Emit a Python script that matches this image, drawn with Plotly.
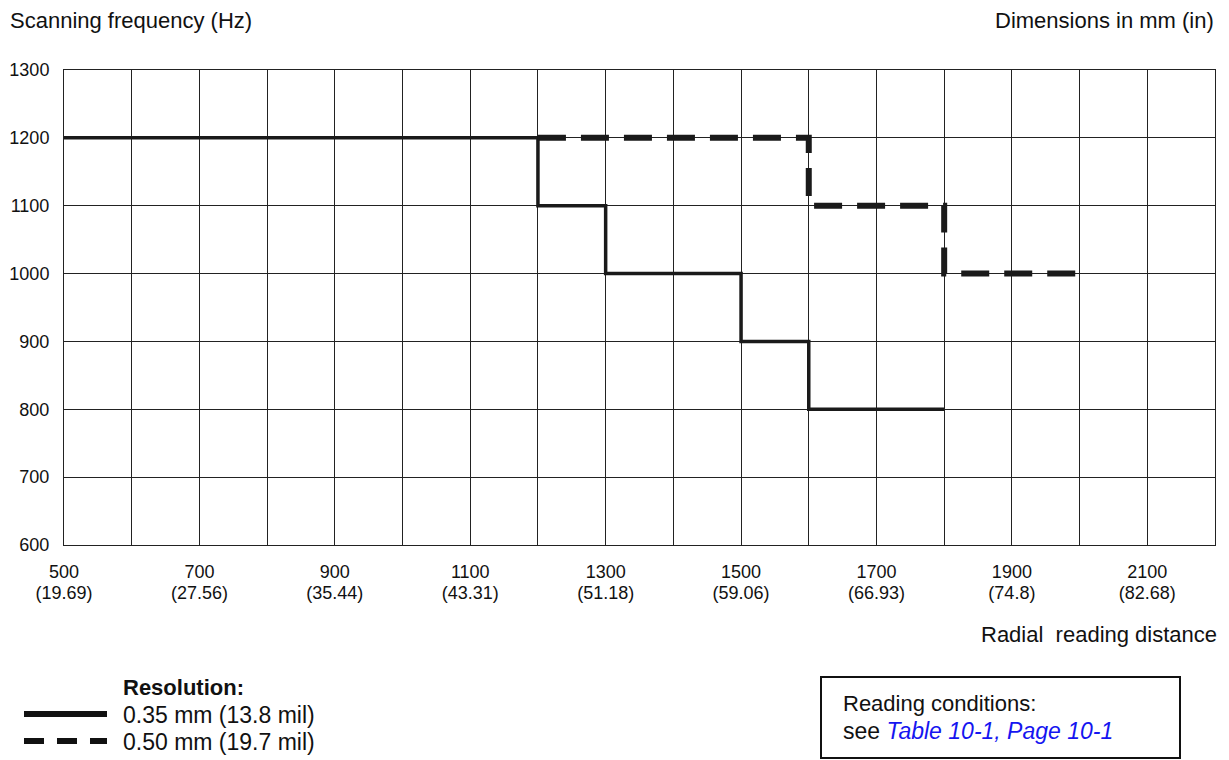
import plotly.graph_objects as go

# Daten aus dem Diagramm
x_ticks_mm = [500, 700, 900, 1100, 1300, 1500, 1700, 1900, 2100]
x_ticks_in = ["19.69", "27.56", "35.44", "43.31", "51.18", "59.06", "66.93", "74.8", "82.68"]
y_ticks = [600, 700, 800, 900, 1000, 1100, 1200, 1300]

# Aufloesung 0.35 mm (Stufenlinie)
dist_035 = [500, 1200, 1300, 1500, 1600, 1800]
freq_035 = [1200, 1100, 1000, 900, 800, 800]

# Aufloesung 0.50 mm (gestrichelt)
dist_050 = [1200, 1600, 1800, 2000]
freq_050 = [1200, 1100, 1000, 1000]

# Seite hat 8px body-margin -> Figur um 8px kleiner, alle Positionen in Referenz-Pixeln
OFF = 8
W, H = 1229 - OFF, 760 - OFF
L, R, T, B = 64, 1215, 70, 545
FONT = "Liberation Sans"
INK = "#111"


def px(x):
    return (x - L) / (R - L)


def py(y):
    return (B - y) / (B - T)


fig = go.Figure()

fig.add_trace(go.Scatter(x=dist_035, y=freq_035, mode="lines", line_shape="hv",
                         line=dict(color="#1a1a1a", width=3.5), showlegend=False))
# gestrichelte Linie auf der zweiten x-Achse (gleicher Bereich), damit diese gezeichnet wird
fig.add_trace(go.Scatter(x=dist_050, y=freq_050, mode="lines", line_shape="hv", xaxis="x2",
                         line=dict(color="#1a1a1a", width=6, dash="28px,15px"), showlegend=False))

grid = dict(showgrid=True, gridcolor="#222", gridwidth=1, zeroline=False, automargin=False,
            showline=True, mirror=True, linecolor="#222", linewidth=1)

fig.update_xaxes(range=[500, 2200], tickvals=x_ticks_mm, **grid,
                 minor=dict(tick0=500, dtick=100, showgrid=True, gridcolor="#222", gridwidth=1),
                 ticklabelstandoff=10, tickfont=dict(size=18, color=INK))
fig.update_yaxes(range=[600, 1300], tickvals=y_ticks, **grid,
                 ticklabelstandoff=10, tickfont=dict(size=18, color=INK))

# Zoll-Angaben als zweite Tick-Zeile
fig.update_layout(xaxis2=dict(overlaying="x", side="bottom", anchor="y", range=[500, 2200],
                              tickvals=x_ticks_mm, ticktext=[f"({i})" for i in x_ticks_in],
                              showgrid=False, zeroline=False, showline=False, automargin=False,
                              ticklabelstandoff=35, tickfont=dict(size=18, color=INK)))

annotations = [
    dict(text="Scanning frequency (Hz)", x=px(8), y=py(21), xanchor="left"),
    dict(text="Dimensions in mm (in)", x=px(1216), y=py(21), xanchor="right"),
    dict(text="Radial  reading distance", x=px(1219), y=py(634), xanchor="right"),
    dict(text="<b>Resolution:</b>", x=px(121), y=py(688), xanchor="left"),
    dict(text="0.35 mm (13.8 mil)", x=px(121), y=py(715), xanchor="left", size=23),
    dict(text="0.50 mm (19.7 mil)", x=px(121), y=py(742), xanchor="left", size=23),
    dict(text="Reading conditions:", x=px(841), y=py(703), xanchor="left"),
    dict(text="see <span style='color:#1515f0'><i>Table 10-1, Page 10-1</i></span>",
         x=px(841), y=py(731), xanchor="left", size=23),
]
for a in annotations:
    size = a.pop("size", 22)
    a.update(xref="paper", yref="paper", yanchor="middle", showarrow=False,
             font=dict(family=FONT, color=INK, size=size))

shapes = [
    dict(type="line", x0=px(24), x1=px(107), y0=py(714), y1=py(714),
         line=dict(color=INK, width=6)),
    dict(type="line", x0=px(24), x1=px(107), y0=py(741), y1=py(741),
         line=dict(color=INK, width=6, dash="20px,13px")),
    dict(type="rect", x0=px(821), x1=px(1180), y0=py(677), y1=py(758),
         line=dict(color=INK, width=2)),
]
for s in shapes:
    s.update(xref="paper", yref="paper")

fig.update_layout(
    width=W, height=H,
    margin=dict(l=L - OFF, r=W - (R - OFF), t=T - OFF, b=H - (B - OFF)),
    paper_bgcolor="white", plot_bgcolor="white",
    font=dict(family=FONT, color=INK),
    annotations=annotations, shapes=shapes,
    showlegend=False,
)

fig.write_html("out.html")
